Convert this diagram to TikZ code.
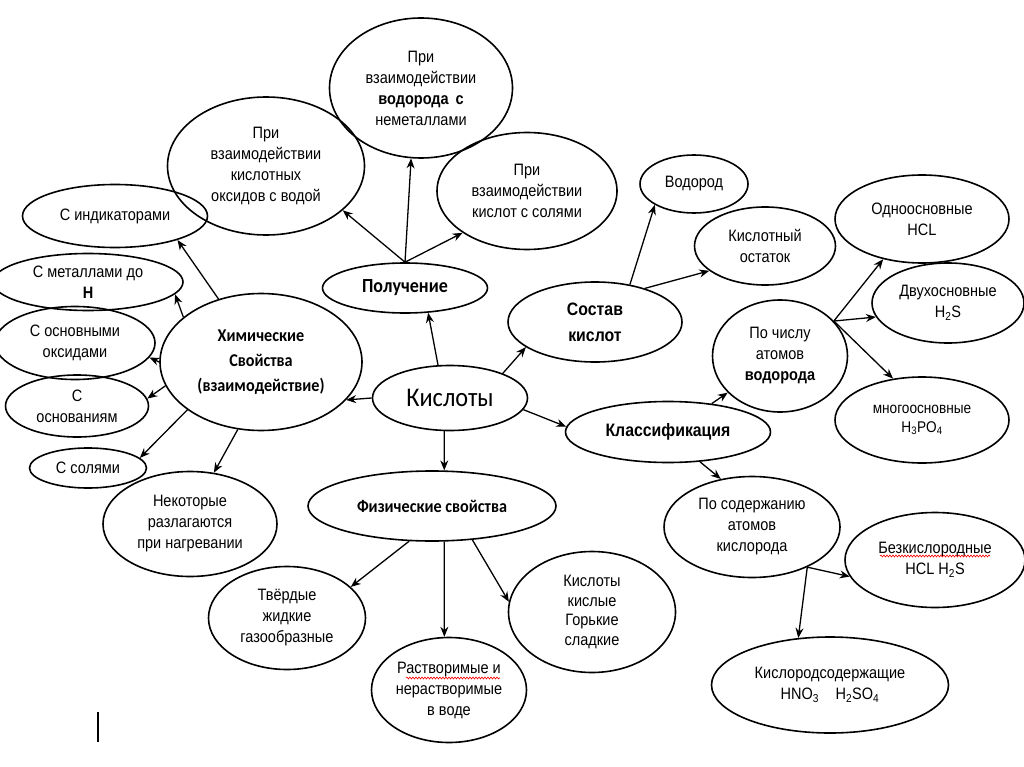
\documentclass[tikz,border=0pt]{standalone}
\usepackage{fontspec}
\setmainfont{Liberation Sans}[FakeStretch=0.88]
\newfontfamily\calib{Carlito}[FakeStretch=0.9]
\usetikzlibrary{shapes.geometric,arrows.meta,decorations.pathmorphing}

\tikzset{
  oval/.style={ellipse,draw,line width=1.6pt,align=center,inner sep=0pt,
    font=\fontsize{16.5}{21}\selectfont},
  link/.style={->,line width=1.3pt},
  squig/.style={red,line width=0.6pt,decorate,
    decoration={snake,amplitude=1pt,segment length=3pt}},
}

\begin{document}
\begin{tikzpicture}[x=1pt,y=-1pt,>={Stealth[length=10pt,width=8pt]}]
  \useasboundingbox (0,0) rectangle (1024,767);
  \clip (0,0) rectangle (1024,767);
  % centre
  \node[oval,minimum width=155pt,minimum height=65pt,font=\calib\fontsize{27}{30}\selectfont] (kis) at (450,398) {Кислоты};
  % polucheniye
  \node[oval,minimum width=165pt,minimum height=50pt,font=\calib\bfseries\fontsize{20}{21}\selectfont] (pol) at (405,288) {Получение};
  \node[oval,minimum width=197pt,minimum height=138pt] (oxid) at (266,166) {При\\взаимодействии\\кислотных\\оксидов с водой};
  \node[oval,minimum width=183pt,minimum height=140pt] (hydr) at (421,88) {При\\взаимодействии\\{\bfseries водорода\, с}\\неметаллами};
  \node[oval,minimum width=180pt,minimum height=117pt] (salt) at (527,191) {При\\взаимодействии\\кислот с солями};
  % khimicheskiye svoystva
  \node[oval,minimum width=202pt,minimum height=137pt,font=\calib\bfseries\fontsize{18}{25}\selectfont] (him) at (261,362) {Химические\\Свойства\\(взаимодействие)};
  \node[oval,minimum width=185pt,minimum height=63pt] (ind) at (115,216) {С индикаторами};
  \node[oval,minimum width=190pt,minimum height=57pt] (met) at (88,282) {С металлами до\\{\bfseries Н}};
  \node[oval,minimum width=160pt,minimum height=73pt] (osnox) at (75,343) {С основными\\оксидами};
  \node[oval,minimum width=143pt,minimum height=62pt] (osn) at (77,406) {С\\основаниям};
  \node[oval,minimum width=117pt,minimum height=40pt] (sol) at (88,468) {С солями};
  \node[oval,minimum width=174pt,minimum height=105pt] (razl) at (190,524) {Некоторые\\разлагаются\\при нагревании};
  % fizicheskiye svoystva
  \node[oval,minimum width=248pt,minimum height=70pt,font=\calib\bfseries\fontsize{18}{21}\selectfont] (fiz) at (432,506) {Физические свойства};
  \node[oval,minimum width=157pt,minimum height=103pt] (tv) at (287,618) {Твёрдые\\жидкие\\газообразные};
  \node[oval,minimum width=155pt,minimum height=105pt] (rastv) at (449,690) {Растворимые и\\нерастворимые\\в воде};
  \node[oval,minimum width=167pt,minimum height=121pt,font=\fontsize{16.5}{19.5}\selectfont] (vkus) at (592,612) {Кислоты\\кислые\\Горькие\\сладкие};
  % sostav
  \node[oval,minimum width=174pt,minimum height=80pt,font=\bfseries\fontsize{18}{26}\selectfont] (sost) at (595,322) {Состав\\кислот};
  \node[oval,minimum width=108pt,minimum height=58pt] (vod) at (694,184) {Водород};
  \node[oval,minimum width=141pt,minimum height=78pt] (ost) at (765,246) {Кислотный\\остаток};
  % klassifikatsiya
  \node[oval,minimum width=205pt,minimum height=61pt,font=\bfseries\fontsize{18}{21}\selectfont] (klass) at (668,432) {Классификация};
  \node[oval,minimum width=135pt,minimum height=112pt] (chislo) at (780,356) {По числу\\атомов\\{\bfseries водорода}};
  \node[oval,minimum width=174pt,minimum height=88pt] (odno) at (922,219) {Одноосновные\\HCL};
  \node[oval,minimum width=152pt,minimum height=80pt] (dvu) at (948,303) {Двухосновные\\H\textsubscript{2}S};
  \node[oval,minimum width=174pt,minimum height=86pt,font=\fontsize{15.5}{19}\selectfont] (mnogo) at (922,420) {многоосновные\\H\textsubscript{3}PO\textsubscript{4}};
  \node[oval,minimum width=176pt,minimum height=101pt] (soder) at (752,527) {По содержанию\\атомов\\кислорода};
  \node[oval,minimum width=180pt,minimum height=95pt] (bezk) at (935,560) {Безкислородные\\HCL H\textsubscript{2}S};
  \node[oval,minimum width=237pt,minimum height=96pt] (kislsod) at (830,685) {Кислородсодержащие\\HNO\textsubscript{3}\quad H\textsubscript{2}SO\textsubscript{4}};

  % arrows
  \draw[link] (kis.110) -- (pol.-47);
  \draw[link] (pol.north) -- (oxid.-30);
  \draw[link] (pol.north) -- (hydr.-98);
  \draw[link] (pol.north) -- (salt.-147);
  \draw[link] (kis.180) -- (him.-24);
  \draw[link] (him.124) -- (ind.-21);
  \draw[link] (him.150) -- (met.-8);
  \draw[link] (him.180) -- (osnox.-11);
  \draw[link] (him.-166) -- (osn.6);
  \draw[link] (him.-147) -- (sol.11);
  \draw[link] (him.-109) -- (razl.65);
  \draw[link] (kis.-100) -- (fiz.71);
  \draw[link] (fiz.-123) -- (tv.26);
  \draw[link] (fiz.-71) -- (rastv.95);
  \draw[link] (fiz.-40) -- (vkus.173);
  \draw[link] (kis.25) -- (sost.-160);
  \draw[link] (sost.47) -- (vod.-152);
  \draw[link] (sost.34) -- (ost.-156);
  \draw[link] (kis.-9) -- (klass.177);
  \draw[link] (klass.33) -- (chislo.-145);
  \draw[link] (klass.-43) -- (soder.123);
  \draw[link] (chislo.33) -- (odno.-134);
  \draw[link] (chislo.33) -- (dvu.-169);
  \draw[link] (chislo.33) -- (mnogo.125);
  \draw[link] (soder.-36) -- (bezk.-169);
  \draw[link] (soder.-36) -- (kislsod.124);

  % spell marks and cursor
  \draw[squig] (880,556) -- (990,556);
  \draw[squig] (406,678) -- (500,678);
  \draw[line width=2.5pt] (98,712) -- (98,742);
\end{tikzpicture}
\end{document}
